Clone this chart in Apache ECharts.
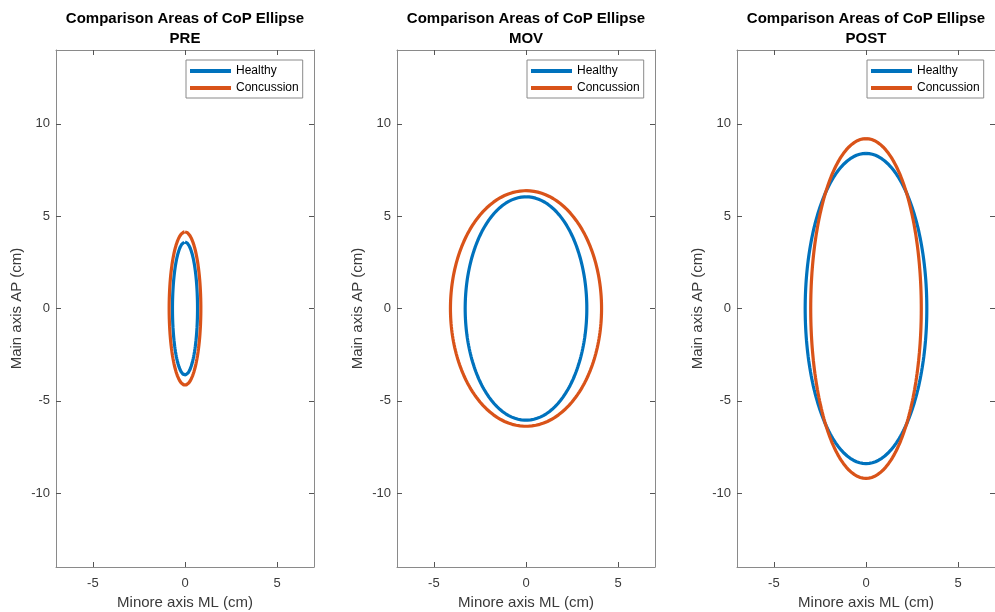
<!DOCTYPE html>
<html>
<head>
<meta charset="utf-8">
<script src="https://cdn.jsdelivr.net/npm/echarts@6/dist/echarts.min.js"></script>
<style>
html,body{margin:0;padding:0;background:#fff;}
#chart{width:995px;height:612px;}
</style>
</head>
<body>
<div id="chart"></div>
<script>
// ---- data ----
const panelNames = ['PRE', 'MOV', 'POST'];
const seriesNames = ['Healthy', 'Concussion'];
// ellipse semi-axes, cm: ML = half width (minor axis), AP = half height (main axis)
const healthyML    = [0.68, 3.30, 3.30];
const healthyAP    = [3.60, 6.05, 8.40];
const concussionML = [0.86, 4.10, 3.00];
const concussionAP = [4.15, 6.38, 9.20];
const xTicks = [-5, 0, 5];
const yTicks = [-10, -5, 0, 5, 10];
const xRange = [-7, 7];
const yRange = [-14, 14];
const titleText = 'Comparison Areas of CoP Ellipse';
const xName = 'Minore axis ML (cm)';
const yName = 'Main axis AP (cm)';

// ---- styling / layout ----
const colors = ['#0072BD', '#D95319'];
const FONT = '"Liberation Sans", Arial, Helvetica, sans-serif';
const gridLefts = [56, 397, 737];
const gridW = 258, gridTop = 50, gridH = 517;
const axisColor = '#8a8a8a';
const textColor = '#3a3a3a';

function ellipsePts(a, b) {
  const pts = [];
  const N = 240;
  for (let k = 0; k <= N; k++) {
    const t = 2 * Math.PI * k / N;
    pts.push([a * Math.sin(t), b * Math.cos(t)]);
  }
  return pts;
}

const grids = [], xAxes = [], yAxes = [], series = [], legends = [], graphics = [];
panelNames.forEach((p, i) => {
  grids.push({left: gridLefts[i], top: gridTop, width: gridW, height: gridH,
              containLabel: false, outerBoundsMode: 'none'});
  const common = {
    type: 'value', gridIndex: i,
    splitLine: {show: false},
    axisLine: {show: true, onZero: false, lineStyle: {color: axisColor, width: 1}},
    axisTick: {show: true, inside: true, length: 5, lineStyle: {color: '#555'}}
  };
  xAxes.push(Object.assign({}, common, {
    position: 'bottom', min: xRange[0], max: xRange[1],
    axisTick: Object.assign({}, common.axisTick, {customValues: xTicks}),
    axisLabel: {customValues: xTicks, color: textColor, fontSize: 13, fontFamily: FONT, margin: 10},
    name: xName, nameLocation: 'middle', nameGap: 27,
    nameTextStyle: {color: textColor, fontSize: 15, fontFamily: FONT}
  }));
  xAxes.push(Object.assign({}, common, {
    position: 'top', min: xRange[0], max: xRange[1],
    axisTick: Object.assign({}, common.axisTick, {customValues: xTicks}),
    axisLabel: {show: false}
  }));
  yAxes.push(Object.assign({}, common, {
    position: 'left', min: yRange[0], max: yRange[1],
    axisTick: Object.assign({}, common.axisTick, {customValues: yTicks}),
    axisLabel: {customValues: yTicks, color: textColor, fontSize: 13, fontFamily: FONT, margin: 6},
    name: yName, nameLocation: 'middle', nameGap: 32,
    nameTextStyle: {color: textColor, fontSize: 15, fontFamily: FONT}
  }));
  yAxes.push(Object.assign({}, common, {
    position: 'right', min: yRange[0], max: yRange[1],
    axisTick: Object.assign({}, common.axisTick, {customValues: yTicks}),
    axisLabel: {show: false}
  }));
  const mls = [healthyML[i], concussionML[i]];
  const aps = [healthyAP[i], concussionAP[i]];
  seriesNames.forEach((s, j) => {
    series.push({
      name: s, type: 'line', xAxisIndex: 2 * i, yAxisIndex: 2 * i,
      data: ellipsePts(mls[j], aps[j]),
      showSymbol: false, symbol: 'none', smooth: false,
      lineStyle: {color: colors[j], width: 3.2},
      itemStyle: {color: colors[j]},
      z: 2 + j, animation: false
    });
  });
  legends.push({
    data: seriesNames, orient: 'vertical',
    left: gridLefts[i] + gridW - 128, top: 60,
    icon: 'rect', itemWidth: 41, itemHeight: 4, itemGap: 5, itemTextGap: 3,
    padding: [5, 4, 4, 4],
    borderColor: '#8a8a8a', borderWidth: 1, backgroundColor: '#fff',
    textStyle: {color: '#000', fontSize: 12, fontFamily: FONT},
    selectedMode: false
  });
  graphics.push({
    type: 'text', x: gridLefts[i] + gridW / 2, y: 9,
    style: {
      text: titleText + '\n' + p, align: 'center', verticalAlign: 'top',
      fontSize: 15, fontWeight: 'bold', fontFamily: FONT, fill: '#000', lineHeight: 20
    }
  });
});

const chart = echarts.init(document.getElementById('chart'), null, {renderer: 'canvas'});
chart.setOption({
  backgroundColor: '#fff',
  animation: false,
  grid: grids, xAxis: xAxes, yAxis: yAxes, series: series,
  legend: legends, graphic: graphics
});
</script>
</body>
</html>
